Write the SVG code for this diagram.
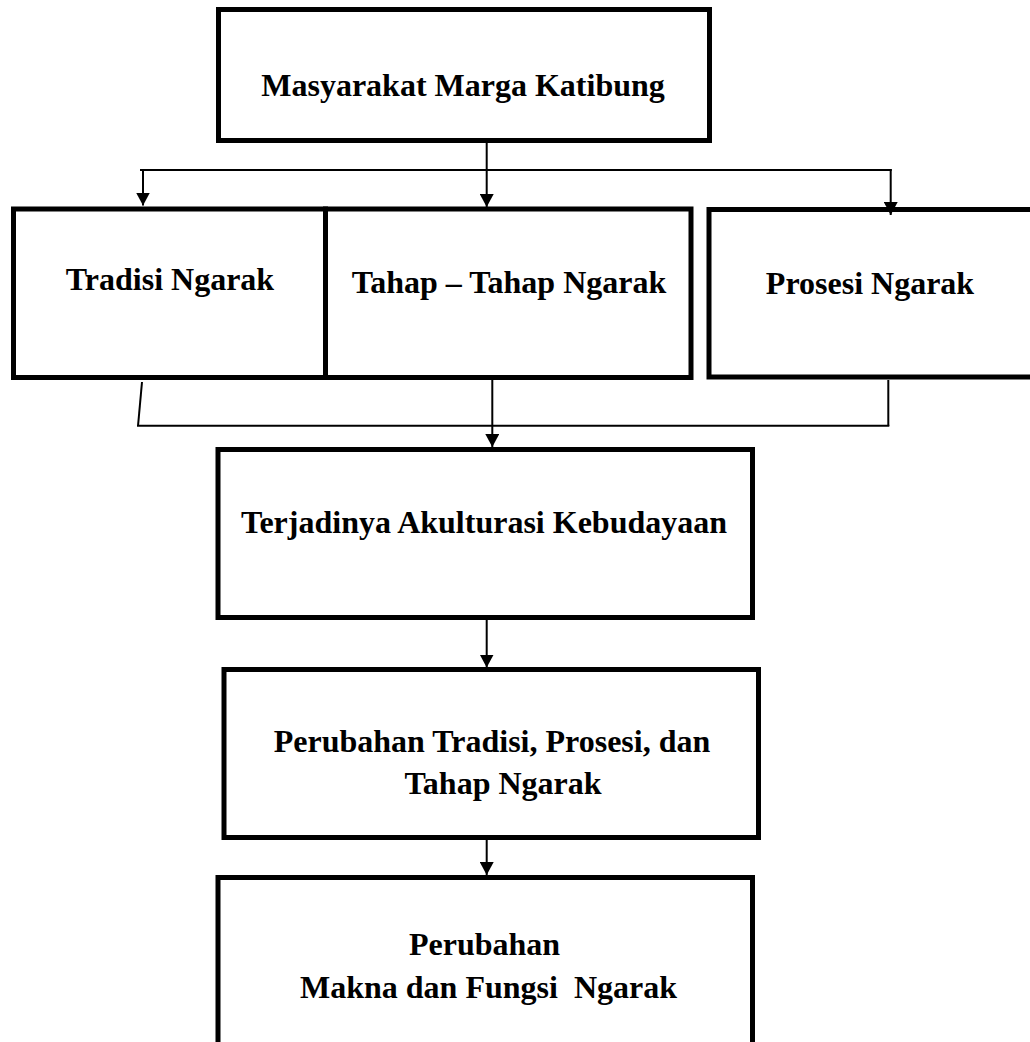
<svg xmlns="http://www.w3.org/2000/svg" width="1030" height="1042" viewBox="0 0 1030 1042">
  <style>
    .box { fill: #ffffff; stroke: #000000; stroke-width: 5; }
    .lbl { font-family: "Liberation Serif", "Times New Roman", serif; font-weight: bold; font-size: 32px; fill: #000000; text-anchor: middle; white-space: pre; }
    .con { fill: none; stroke: #000000; stroke-width: 2; }
  </style>
  <defs>
    <marker id="arrow" markerUnits="userSpaceOnUse" markerWidth="13" markerHeight="14" refX="13" refY="7" orient="auto" viewBox="0 0 13 14">
      <path d="M0,0 L13,7 L0,14 Z" fill="#000000"/>
    </marker>
  </defs>
  <rect width="1030" height="1042" fill="#ffffff"/>

  <g id="n-masyarakat">
    <rect class="box" x="218.5" y="9.5" width="491" height="131"/>
    <text class="lbl" x="463" y="96">Masyarakat Marga Katibung</text>
  </g>

  <g id="n-tradisi">
    <rect class="box" x="13.5" y="209" width="312" height="168.5"/>
    <text class="lbl" x="170" y="290">Tradisi Ngarak</text>
  </g>

  <g id="n-tahap">
    <rect class="box" x="325.5" y="209" width="365.5" height="168.5"/>
    <text class="lbl" x="509" y="293">Tahap – Tahap Ngarak</text>
  </g>

  <g id="n-prosesi">
    <rect class="box" x="709" y="209.5" width="330" height="167.5"/>
    <text class="lbl" x="870" y="294">Prosesi Ngarak</text>
  </g>

  <g id="n-akulturasi">
    <rect class="box" x="218" y="449.5" width="534.5" height="168"/>
    <text class="lbl" x="484" y="533">Terjadinya Akulturasi Kebudayaan</text>
  </g>

  <g id="n-perubahan-tradisi">
    <rect class="box" x="224" y="669.5" width="534.5" height="168"/>
    <text class="lbl" x="492" y="752">Perubahan Tradisi, Prosesi, dan</text>
    <text class="lbl" x="503" y="794">Tahap Ngarak</text>
  </g>

  <g id="n-perubahan-makna">
    <rect class="box" x="218" y="877.5" width="534.5" height="180"/>
    <text class="lbl" x="484.5" y="955">Perubahan</text>
    <text class="lbl" x="488.5" y="998">Makna dan Fungsi  Ngarak</text>
  </g>

  <g id="connectors">
    <line class="con" x1="486.7" y1="143" x2="486.7" y2="207" marker-end="url(#arrow)"/>
    <line class="con" x1="140" y1="170" x2="891.7" y2="170"/>
    <line class="con" x1="143" y1="169" x2="143" y2="205.5" marker-end="url(#arrow)"/>
    <line class="con" x1="890.7" y1="169" x2="890.7" y2="215" marker-end="url(#arrow)"/>

    <line class="con" x1="142" y1="382" x2="138" y2="426"/>
    <line class="con" x1="888.3" y1="380" x2="888.3" y2="426"/>
    <line class="con" x1="137" y1="425.7" x2="889.3" y2="425.7"/>
    <line class="con" x1="492.3" y1="380" x2="492.3" y2="447" marker-end="url(#arrow)"/>

    <line class="con" x1="486.7" y1="620" x2="486.7" y2="667.5" marker-end="url(#arrow)"/>
    <line class="con" x1="486.7" y1="840" x2="486.7" y2="875" marker-end="url(#arrow)"/>
  </g>
</svg>
